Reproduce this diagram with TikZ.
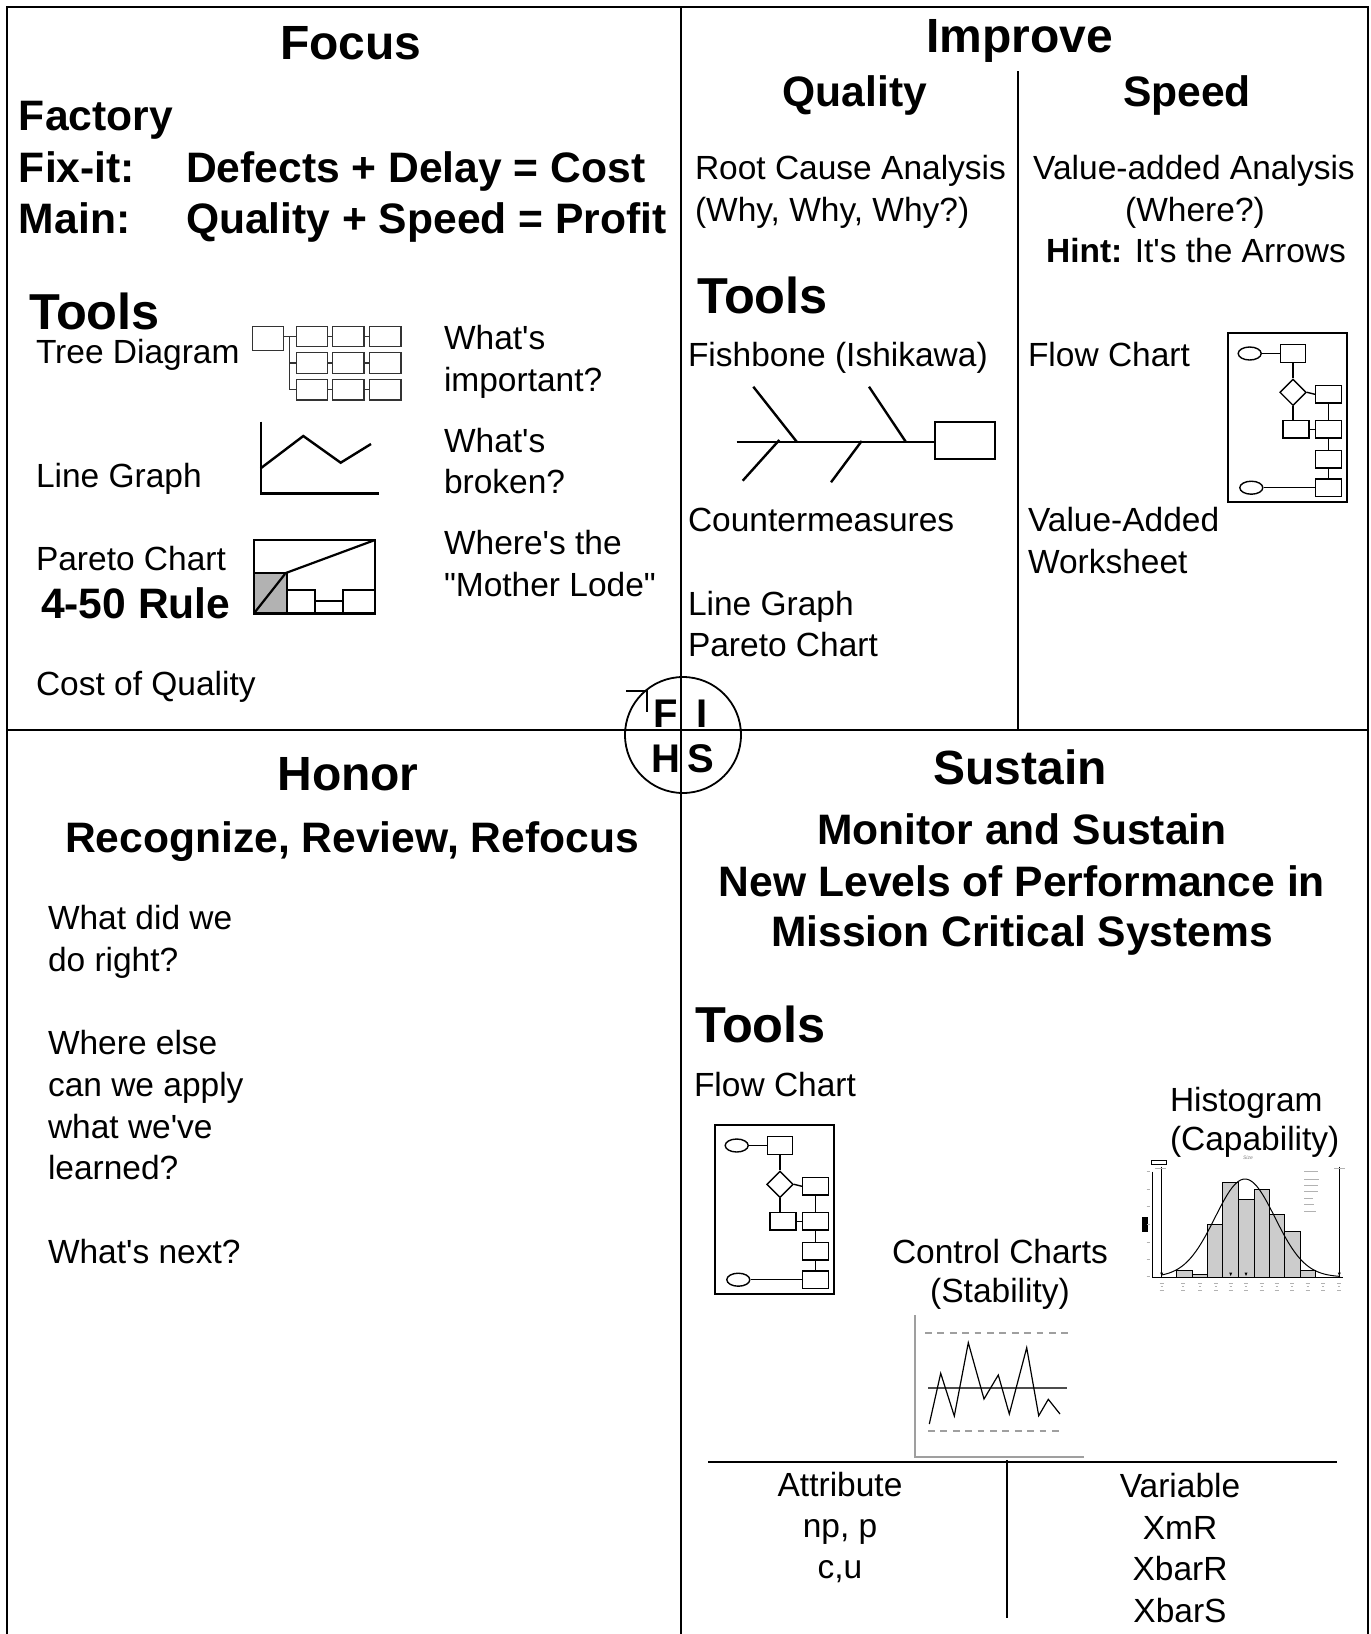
\documentclass[tikz,border=0pt]{standalone}
\usepackage{fontspec}
\setmainfont{Liberation Sans}[Ligatures=TeXOff]
\usetikzlibrary{shapes.geometric}
\tikzset{
  H/.style={font=\fontsize{48}{57}\selectfont\bfseries, inner sep=0pt, outer sep=0pt},
  TL/.style={font=\fontsize{50.5}{57}\selectfont\bfseries, inner sep=0pt, outer sep=0pt},
  B/.style={font=\fontsize{42.6}{50}\selectfont\bfseries, inner sep=0pt, outer sep=0pt},
  T/.style={font=\fontsize{33.5}{41}\selectfont, inner sep=0pt, outer sep=0pt},
  L/.style={font=\fontsize{40}{48}\selectfont\bfseries, inner sep=0pt, outer sep=0pt, anchor=base},
  frame/.style={line width=2.6pt},
  divider/.style={line width=2pt},
  thick2/.style={line width=2.4pt},
  tb/.style={draw=black!80, line width=1.1pt, minimum width=31.5pt, minimum height=20.5pt, inner sep=0pt},
  tline/.style={draw=black!80, line width=1.1pt},
  fbox/.style={draw, line width=1.4pt, minimum width=26pt, minimum height=17.5pt, inner sep=0pt},
  fell/.style={draw, ellipse, line width=1.4pt, minimum width=23pt, minimum height=13pt, inner sep=0pt},
  fdia/.style={draw, diamond, line width=1.4pt, minimum width=26.5pt, minimum height=26.5pt, inner sep=0pt},
  fline/.style={line width=1.4pt},
  tiny/.style={draw=gray!60, line width=0.7pt},
  flowch/.pic={
    \draw[line width=2.4pt] (0,0) rectangle (119,169);
    \node[fell] (e1) at (21.7,20.5) {};
    \node[fbox, minimum width=25pt] (r1) at (65.2,20.5) {};
    \node[fdia] (d) at (65,59.3) {};
    \node[fbox] (r2) at (100.7,61.3) {};
    \node[fbox] (r3) at (68,96.2) {};
    \node[fbox] (r4) at (100.7,96.2) {};
    \node[fbox] (r5) at (100.7,126.3) {};
    \node[fbox] (r6) at (100.7,154.7) {};
    \node[fell] (e2) at (23.3,154.7) {};
    \draw[fline] (e1) -- (r1);
    \draw[fline] (r1.south -| d.north) -- (d.north);
    \draw[fline] (d.east) -- (r2.west);
    \draw[fline] (d.south) -- (d.south |- r3.north);
    \draw[fline] (r3.east) -- (r4.west);
    \draw[fline] (r2.south) -- (r4.north);
    \draw[fline] (r4.south) -- (r5.north);
    \draw[fline] (r5.south) -- (r6.north);
    \draw[fline] (e2.east) -- (r6.west);
  }
}
\begin{document}
\begin{tikzpicture}[x=1pt,y=-1pt]
\useasboundingbox (0,0) rectangle (1371,1634);
\fill[white] (0,0) rectangle (1371,1634);

% ---------- frame ----------
\draw[frame] (7,1634) -- (7,7) -- (1368,7) -- (1368,1634);
\draw[divider] (681,7) -- (681,1634);
\draw[divider] (7,730) -- (1368,730);
\draw[divider] (1018,71) -- (1018,730);

% ---------- FIHS circle ----------
\node[draw, circle, line width=1.8pt, minimum size=116pt, inner sep=0pt] (fihs) at (683,735) {};
\draw[line width=1.5pt] (626,691) -| (647,712);
\node[L] (lf) at (666,727) {F};
\node[L] (li) at (702.5,727) {I};
\node[L] (lh) at (665.5,772) {H};
\node[L] (ls) at (700.5,772) {S};

% ---------- Focus ----------
\node[H, anchor=base] (focus) at (351,59) {Focus};
\node[B, anchor=base west] (factory) at (19,130) {Factory};
\node[B, anchor=base west] (fixit) at (19,182) {Fix-it:};
\node[B, anchor=base west] (defects) at (186,182) {Defects + Delay = Cost};
\node[B, anchor=base west] (mainl) at (19,233) {Main:};
\node[B, anchor=base west] (qsp) at (186,233) {Quality + Speed = Profit};
\node[TL, anchor=base west] (tools1) at (29,329) {Tools};
\node[T, anchor=base west] (tree) at (36,363) {Tree Diagram};
\node[T, anchor=base west] (lg1) at (36,487) {Line Graph};
\node[T, anchor=base west] (pc1) at (36,570) {Pareto Chart};
\node[B, anchor=base west] (rule) at (41,618) {4-50 Rule};
\node[T, anchor=base west] (coq) at (36,695) {Cost of Quality};
\node[T, anchor=base west] (q1a) at (444,349) {What's};
\node[T, anchor=base west] (q1b) at (444,391) {important?};
\node[T, anchor=base west] (q2a) at (444,452) {What's};
\node[T, anchor=base west] (q2b) at (444,493) {broken?};
\node[T, anchor=base west] (q3a) at (444,554) {Where's the};
\node[T, anchor=base west] (q3b) at (444,596) {"Mother Lode"};

% tree diagram
\node[tb, minimum width=30.6pt, minimum height=24pt] (root) at (268,338.5) {};
\foreach \r/\y in {1/336.3,2/363,3/389.7}{
  \foreach \c/\x in {1/311.8,2/348.2,3/385.2}{
    \node[tb] (t\r\c) at (\x,\y) {};
  }
  \draw[tline] (t\r1.east) -- (t\r2.west);
  \draw[tline] (t\r2.east) -- (t\r3.west);
}
\coordinate (bus) at (289.3,336.3);
\draw[tline] (root.east |- bus) -- (t11.west);
\draw[tline] (bus) |- (t21.west);
\draw[tline] (bus) |- (t31.west);

% line graph
\draw[thick2] (260.7,421.7) -- (260.7,493.3) -- (379.3,493.3);
\draw[thick2] (260.7,468.3) -- (303.3,436) -- (340.7,462.7) -- (371,444);

% pareto
\draw[line width=2.2pt, fill=gray!60] (254,573.3) rectangle (287.3,613.3);
\draw[line width=2.2pt] (287.3,590) rectangle (315,613.3);
\draw[line width=2.2pt] (315,600.7) rectangle (343.3,613.3);
\draw[line width=2.2pt] (343.3,590) rectangle (375,613.3);
\draw[line width=2.2pt] (254,613.3) -- (285,574);
\draw[line width=2.2pt] (285,573.3) -- (375,540);
\draw[line width=2.5pt] (254,540) rectangle (375,613.3);

% ---------- Improve ----------
\node[H, anchor=base] (improve) at (1020,52) {Improve};
\node[B, anchor=base] (quality) at (855,106) {Quality};
\node[B, anchor=base] (speed) at (1187,106) {Speed};
\node[T, anchor=base west] (rca) at (695,179) {Root Cause Analysis};
\node[T, anchor=base west] (why) at (695,221) {(Why, Why, Why?)};
\node[T, anchor=base] (vaa) at (1194,179) {Value-added Analysis};
\node[T, anchor=base] (where) at (1195,221) {(Where?)};
\node[T, anchor=base] (hint) at (1196,262) {{\bfseries Hint:} It's the Arrows};
\node[TL, anchor=base west] (tools2) at (697,313) {Tools};
\node[T, anchor=base west] (fish) at (688,366) {Fishbone (Ishikawa)};
\node[T, anchor=base west] (cm) at (688,531) {Countermeasures};
\node[T, anchor=base west] (lg2) at (688,615) {Line Graph};
\node[T, anchor=base west] (pc2) at (688,656) {Pareto Chart};
\node[T, anchor=base west] (fct1) at (1028,366) {Flow Chart};
\node[T, anchor=base west] (va1) at (1028,531) {Value-Added};
\node[T, anchor=base west] (va2) at (1028,573) {Worksheet};

% fishbone
\node[draw, line width=2.3pt, minimum width=60pt, minimum height=37.6pt, inner sep=0pt] (head) at (965,440.5) {};
\coordinate (tail) at (736.7,441.7);
\draw[thick2] (tail) -- (tail -| head.west);
\draw[thick2] (753.3,386.7) -- (796.7,441.7);
\draw[thick2] (869,386.7) -- (905.7,441.7);
\draw[thick2] (742.7,480.7) -- (779.3,440);
\draw[thick2] (831,482.3) -- (861.7,441);

% flow chart (improve)
\pic (fa) at (1228,333) {flowch};

% ---------- Honor ----------
\node[H, anchor=base] (honor) at (348,790) {Honor};
\node[B, anchor=base] (rrr) at (352,852) {Recognize, Review, Refocus};
\node[T, anchor=base west] (h1) at (48,929) {What did we};
\node[T, anchor=base west] (h2) at (48,971) {do right?};
\node[T, anchor=base west] (h3) at (48,1054) {Where else};
\node[T, anchor=base west] (h4) at (48,1096) {can we apply};
\node[T, anchor=base west] (h5) at (48,1138) {what we've};
\node[T, anchor=base west] (h6) at (48,1179) {learned?};
\node[T, anchor=base west] (h7) at (48,1263) {What's next?};

% ---------- Sustain ----------
\node[H, anchor=base] (sustain) at (1020,784) {Sustain};
\node[B, anchor=base] (mon1) at (1022,844) {Monitor and Sustain};
\node[B, anchor=base] (mon2) at (1022,896) {New Levels of Performance in};
\node[B, anchor=base] (mon3) at (1022,946) {Mission Critical Systems};
\node[TL, anchor=base west] (tools3) at (695,1042) {Tools};
\node[T, anchor=base west] (fct2) at (694,1096) {Flow Chart};
\node[T, anchor=base west] (hist1) at (1170,1111) {Histogram};
\node[T, anchor=base west] (hist2) at (1170,1150) {(Capability)};
\node[T, anchor=base] (cc1) at (1000,1263) {Control Charts};
\node[T, anchor=base] (cc2) at (1000,1302) {(Stability)};
\node[T, anchor=base] (att1) at (840,1496) {Attribute};
\node[T, anchor=base] (att2) at (840,1537) {np, p};
\node[T, anchor=base] (att3) at (840,1578) {c,u};
\node[T, anchor=base] (var1) at (1180,1497) {Variable};
\node[T, anchor=base] (var2) at (1180,1539) {XmR};
\node[T, anchor=base] (var3) at (1180,1580) {XbarR};
\node[T, anchor=base] (var4) at (1180,1622) {XbarS};

% flow chart (sustain)
\pic (fb) at (715,1125) {flowch};

% table lines
\draw[line width=2.5pt] (708,1462) -- (1337,1462);
\draw[line width=2pt] (1007,1460) -- (1007,1618);

% control chart
\draw[draw=gray!75, line width=1.5pt] (915,1315) -- (915,1457) -- (1084,1457);
\draw[draw=gray!75, line width=1.5pt, dash pattern=on 6.7pt off 5.7pt] (925,1333) -- (1068,1333);
\draw[draw=gray!75, line width=1.5pt, dash pattern=on 6.7pt off 5.7pt] (928,1431) -- (1062,1431);
\draw[draw=black!70, line width=1.3pt] (928,1388) -- (1067,1388);
\draw[line width=1.2pt] (929.3,1424) -- (940.7,1373.3) -- (954.3,1416) -- (968.3,1342.7) -- (984,1399) -- (998.3,1375) -- (1009.3,1414) -- (1026.7,1347.7) -- (1038.7,1415.7) -- (1048.3,1399.3) -- (1060,1414);

% histogram
\foreach \a/\b/\t in {1176.7/1192.7/1270.7, 1192.7/1207.3/1274.3, 1207.3/1222.7/1224.3, 1222.7/1238.3/1182.3, 1238.3/1254/1199.3, 1254/1269.3/1189.3, 1269.3/1284.3/1214.3, 1284.3/1300/1231.7, 1300/1315.7/1270.7}
  \draw[fill=gray!40, line width=0.9pt] (\a,1277.3) rectangle (\b,\t);
\draw[line width=0.8pt] (1152.7,1171.7) -- (1152.7,1277.3) -- (1343.3,1277.3);
\draw[line width=0.8pt] (1161.7,1166.7) -- (1161.7,1277.3);
\draw[line width=0.8pt] (1339.3,1166.7) -- (1339.3,1277.3);
\draw[line width=1pt] plot[domain=1162:1340, samples=80, smooth] (\x, {1277-98*exp(-((\x-1245)^2)/1800)});
\foreach \x in {1161.7,1230.7,1246,1339.3}
  \fill (\x-1.5,1272.5) -- (\x+1.5,1272.5) -- (\x,1276) -- cycle;
\fill (1141.7,1217.3) rectangle (1148.3,1231.7);
\draw[line width=0.6pt] (1151.7,1160) rectangle (1166,1164.3);
\node[inner sep=0pt, font=\fontsize{5}{6}\selectfont\itshape, text=gray] (size) at (1248,1158) {Size};
\foreach \y in {1171.7,1189.3,1206.7,1224.3,1242,1259.3,1276.7}
  \draw[tiny] (1146.5,\y) -- (1149.5,\y);
\foreach \x in {1161.7,1183.3,1200,1216,1230.7,1246,1261.7,1276.7,1292.3,1307.7,1323.3,1339.3}{
  \draw[tiny] (\x-2,1283.3) -- (\x+2,1283.3);
  \draw[tiny] (\x-1,1286.7) -- (\x+1,1286.7);
  \draw[tiny] (\x-2,1290.3) -- (\x+2,1290.3);
}
\foreach \y/\l in {1171.7/14,1179/15,1185.7/14,1191.7/14,1198.3/9,1204.3/10,1211.7/12}
  \draw[tiny] (1304,\y) -- (1304+\l,\y);
\draw[tiny] (1155,1168) -- (1166,1168);
\draw[tiny] (1334,1168) -- (1345,1168);
\end{tikzpicture}
\end{document}
